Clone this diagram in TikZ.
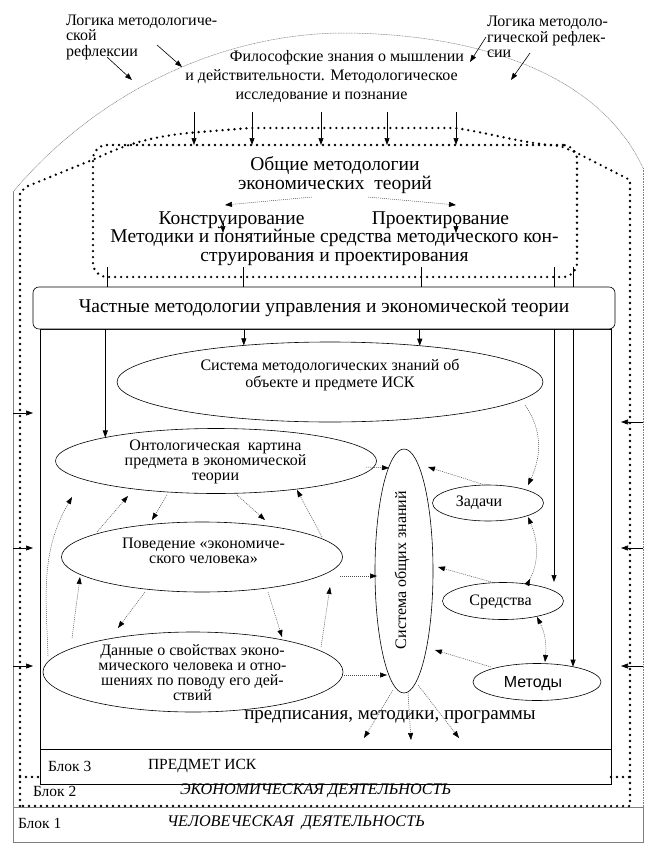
\documentclass[tikz,border=0pt]{standalone}
\usepackage{fontspec}
\setmainfont{Liberation Serif}
\newfontfamily\sansfam{Liberation Sans}
\usetikzlibrary{shapes.geometric,arrows.meta}
\newcommand\fsz[2]{\fontsize{#1}{#2}\selectfont}
\begin{document}
\begin{tikzpicture}[x=1pt,y=-1pt,
  every node/.style={inner sep=0pt, outer sep=0pt},
  bk/.tip={Triangle[length=7pt,width=5pt,color=black,fill=black]},
  bkr/.tip={Triangle[length=7pt,width=5pt,color=black,fill=black,reversed]},
  ell/.style={draw, ellipse, line width=0.6pt, inner sep=0pt},
  txt/.style={align=center},
  arr/.style={line width=0.6pt, -bk},
  dar/.style={line width=0.5pt, gray!60!black, dash pattern=on 1pt off 1pt, -bk},
  bigdots/.style={line width=2.6pt, line cap=round, dash pattern=on 0pt off 6pt},
  grayline/.style={gray, line width=0.5pt},
  grayfine/.style={gray, line width=0.5pt, dash pattern=on 1pt off 0.6pt}
]
\useasboundingbox (0,0) rectangle (658,851);

% ---------- Block 1 frame (thin gray) ----------
\draw[grayfine] (13,192) .. controls (90,100) and (210,35) .. (340,33)
               .. controls (480,33) and (600,75) .. (643,168);
\draw[grayfine] (643,168) -- (643,807);
\draw[grayline] (13,192) -- (13,842) -- (643,842) -- (643,807);
\draw[grayline] (13,807) -- (643,807);

% ---------- Block 2 frame (big dots) ----------
\draw[bigdots] (20,806) -- (20,192) -- (28,186) -- (97,158)
   .. controls (130,142) and (160,135) .. (200,132) -- (250,128) -- (455,128)
   .. controls (490,133) and (520,143) .. (560,146) -- (575,152) -- (630,180)
   -- (630,806) -- cycle;
\draw[bigdots] (20,777) -- (40,777);
\draw[bigdots] (611,777) -- (630,777);

% ---------- Block 3 frame ----------
\draw[line width=0.6pt] (40,329) rectangle (611,784);
\draw[line width=0.6pt] (40,749) -- (611,749);

% ---------- top texts ----------
\node[align=left, anchor=west, font=\fsz{16}{15.5}] (lgL) at (66,37)
  {Логика методологиче-\\ской\\рефлексии};
\node[align=left, anchor=west, font=\fsz{16}{15.5}] (lgR) at (487,37)
  {Логика методоло-\\гической рефлек-\\сии};
\draw[arr] ([shift={(41,20)}]lgL.west) -- ([shift={(66,43)}]lgL.west);
\draw[arr] ([shift={(91,8)}]lgL.west) -- ([shift={(116,30)}]lgL.west);
\draw[arr] ([shift={(-1,0)}]lgR.west) -- ([shift={(-17,25)}]lgR.west);
\draw[arr] ([shift={(43,16)}]lgR.west) -- ([shift={(24,43)}]lgR.west);

\node[txt, font=\fsz{16}{19}] (phil) at (321.5,76)
  {\hspace*{51pt}Философские знания о мышлении\\и действительности. Методологическое\\исследование и познание};

% ---------- general methodologies ----------
\node[draw, bigdots, rounded corners=14pt, minimum width=484pt, minimum height=132pt] (gm) at (335,211) {};
\foreach \x in {194,252,321,387,456}
  \draw[arr] (\x,0 |- phil.south) ++(0,10) -- (\x,0 |- gm.north);

\node[txt, font=\fsz{19.5}{19.5}] (gmt) at (335,175) {Общие методологии\\экономических\ \ теорий};
\node[font=\fsz{19.5}{19.5}] (kon) at (231.5,220) {Конструирование};
\node[font=\fsz{19.5}{19.5}] (pro) at (440.5,220) {Проектирование};
\node[txt, font=\fsz{19.5}{19}] (mtd) at (334.5,247.5)
  {Методики и понятийные средства методического кон-\\струирования и проектирования};
\draw[dar] ([shift={(-23,22)}]gmt.center) -- ([shift={(-110,30)}]gmt.center);
\draw[dar] ([shift={(33,22)}]gmt.center) -- ([shift={(121,30)}]gmt.center);
\draw[arr] ([shift={(-8.5,3)}]kon.center) -- ([shift={(-8.5,13)}]kon.center);
\draw[arr] ([shift={(15.5,3)}]pro.center) -- ([shift={(15.5,13)}]pro.center);

% ---------- particular methodologies ----------
\node[draw, fill=white, rounded corners=6pt, line width=0.6pt, minimum width=582pt,
      minimum height=42pt, font=\fsz{19.5}{20}] (part) at (324,308)
  {Частные методологии управления и экономической теории};
\foreach \x in {107,243,421,554,573}
  \draw[line width=0.6pt] (\x,0 |- gm.south) ++(0,-10) -- (\x,0 |- part.north);

% ---------- ellipses ----------
\node[ell, minimum width=426pt, minimum height=80pt] (msys) at (330,382) {};
\node[ell, minimum width=321pt, minimum height=65pt] (ont) at (216,461) {};
\node[ell, minimum width=281pt, minimum height=70pt] (beh) at (202,557) {};
\node[ell, minimum width=300pt, minimum height=80pt] (dat) at (193,672) {};
\node[ell, minimum width=58pt, minimum height=244pt] (gen) at (404,571) {};
\node[ell, minimum width=111pt, minimum height=36pt] (zad) at (488,503) {};
\node[ell, minimum width=121pt, minimum height=37pt] (sre) at (503,601) {};
\node[ell, minimum width=128pt, minimum height=37pt] (met) at (537,682) {};

\node[txt, font=\fsz{16}{17}] (msyst) at (330,374.5)
  {Система методологических знаний об\\объекте и предмете ИСК};
\node[txt, font=\fsz{16}{15}] (ontt) at (215.5,462)
  {Онтологическая\ \ картина\\предмета в экономической\\теории};
\node[txt, font=\fsz{16}{15}] (beht) at (203.5,550.5)
  {Поведение «экономиче-\\ского человека»};
\node[txt, font=\fsz{16}{15}] (datt) at (192.5,673)
  {Данные о свойствах эконо-\\мического человека и отно-\\шениях по поводу его дей-\\ствий};
\node[rotate=90, font=\fsz{16}{16}] (gent) at (402,570) {Система общих знаний};
\node[font=\fsz{16}{16}] (zadt) at (479,503) {Задачи};
\node[font=\fsz{16}{16}] (sret) at (500.5,602) {Средства};
\node[font=\sansfam\fsz{16}{16}] (mett) at (533,684) {Методы};
\node[font=\fsz{19}{19}] (presc) at (390,717) {предписания, методики, программы};

% ---------- solid arrows from particular methodologies ----------
\draw[arr] (ont.168 |- part.south) -- (ont.168);
\draw[arr] (msys.157 |- part.south) -- (msys.157);
\draw[arr] (msys.22 |- part.south) -- (msys.22);
\coordinate (sreIn) at ([shift={(51,-19)}]sre.center);
\draw[arr] (sreIn |- part.south) -- (sreIn);
\draw[arr] (met.23 |- part.south) -- (met.23);

% ---------- side arrows ----------
\foreach \y in {413,548,666} \draw[arr] (13,\y) -- (33,\y);
\foreach \y in {422,548,666} \draw[arr] (643,\y) -- (621,\y);

% ---------- dotted arrows ----------
\draw[dar] ([shift={(150,6)}]ont.center) -- ([shift={(-15,-103)}]gen.center);
\draw[dar] ([shift={(138,19)}]beh.center) -- ([shift={(-27,5)}]gen.center);
\draw[dar] ([shift={(149,3)}]dat.center) -- ([shift={(-17,104)}]gen.center);
\draw[dar] ([shift={(-3,-18)}]zad.center) -- ([shift={(24,-104)}]gen.center);
\draw[dar] ([shift={(-8,-18)}]sre.center) -- ([shift={(34,-4)}]gen.center);
\draw[dar] ([shift={(-46,-15)}]met.center) -- ([shift={(31,79)}]gen.center);
\draw[dar] ([shift={(195,23)}]msys.center) to[out=-55,in=65] ([shift={(40,-18)}]zad.center);
\draw[dar, bkr-bk] ([shift={(24,-16)}]sre.center) to[out=63,in=-67] ([shift={(40,14)}]zad.center);
\draw[dar, bk-bk] ([shift={(34,16)}]sre.center) to[out=-63,in=85] ([shift={(8,-20)}]met.center);

\draw[dar] ([shift={(-49,34)}]ont.center) -- ([shift={(-50,-37)}]beh.center);
\draw[dar] ([shift={(21,34)}]ont.center) -- ([shift={(63,-37)}]beh.center);
\draw[dar] ([shift={(-105,-25)}]beh.center) -- ([shift={(-88,35)}]ont.center);
\draw[dar] ([shift={(120,-20)}]beh.center) -- ([shift={(81,29)}]ont.center);
\draw[dar] ([shift={(-57,35)}]beh.center) -- ([shift={(-75,-44)}]dat.center);
\draw[dar] ([shift={(66,35)}]beh.center) -- ([shift={(89,-35)}]dat.center);
\draw[dar] ([shift={(-121,-34)}]dat.center) -- ([shift={(-122,20)}]beh.center);
\draw[dar] ([shift={(128,-25)}]dat.center) -- ([shift={(128,30)}]beh.center);
\draw[dar] ([shift={(-145,-16)}]dat.center) to[out=92,in=-120] ([shift={(-144,36)}]ont.center);

\coordinate (p1) at (364,738);
\coordinate (p2) at (411,740);
\coordinate (p3) at (459,738);
\draw[dar] ([shift={(-11,119)}]gen.center) -- (p1);
\draw[dar] ([shift={(4,122)}]gen.center) -- (p2);
\draw[dar] ([shift={(14,114)}]gen.center) -- (p3);

% ---------- block labels ----------
\node[anchor=west, font=\fsz{15.5}{16}] (b3) at (48,766) {Блок 3};
\node[anchor=west, font=\fsz{15.5}{16}] (b3t) at (148,766) {ПРЕДМЕТ ИСК};
\node[anchor=west, font=\fsz{15.5}{16}] (b2) at (33,791) {Блок 2};
\node[anchor=west, font=\itshape\fsz{16.2}{16}] (b2t) at (180,791) {ЭКОНОМИЧЕСКАЯ ДЕЯТЕЛЬНОСТЬ};
\node[anchor=west, font=\fsz{15.5}{16}] (b1) at (18,823) {Блок 1};
\node[anchor=west, font=\itshape\fsz{16.2}{16}] (b1t) at (167,823) {ЧЕЛОВЕЧЕСКАЯ\ \ ДЕЯТЕЛЬНОСТЬ};
\end{tikzpicture}
\end{document}
